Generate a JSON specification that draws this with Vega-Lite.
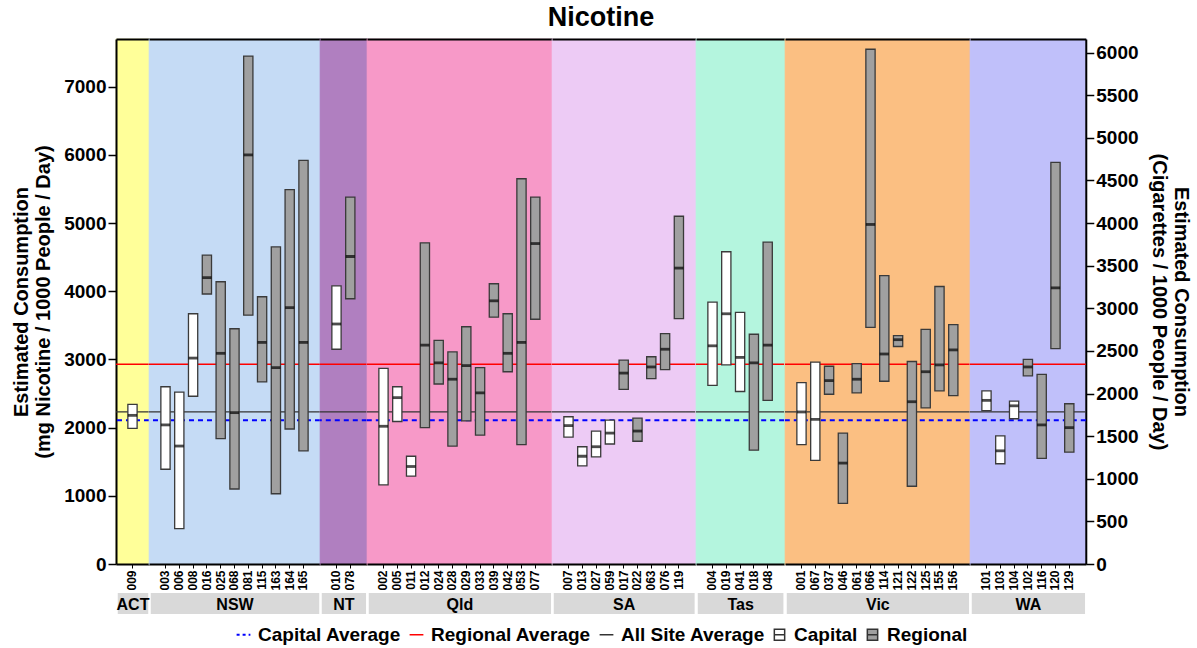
{
  "$schema": "https://vega.github.io/schema/vega-lite/v6.json",
  "title": {"text": "Nicotine", "fontSize": 27, "fontWeight": "bold", "color": "black", "anchor": "middle", "offset": 6},
  "spacing": 0,
  "bounds": "flush",
  "padding": {"left": 11, "right": 2, "top": 3, "bottom": 5},
  "config": {
    "font": "Liberation Sans",
    "view": {"stroke": null},
    "legend": {"layout": {"bottom": {"anchor": "middle"}}}
  },
  "datasets": {
    "avgs": [
      {"series": "Capital Average", "value": 2110},
      {"series": "Regional Average", "value": 2930},
      {"series": "All Site Average", "value": 2230}
    ],
    "sites": [
      {"region": "ACT", "site": "009", "type": "Capital", "lo": 1990, "mid": 2180, "hi": 2340},
      {"region": "NSW", "site": "003", "type": "Capital", "lo": 1390, "mid": 2040, "hi": 2600},
      {"region": "NSW", "site": "006", "type": "Capital", "lo": 520, "mid": 1730, "hi": 2520},
      {"region": "NSW", "site": "008", "type": "Capital", "lo": 2460, "mid": 3020, "hi": 3670},
      {"region": "NSW", "site": "016", "type": "Regional", "lo": 3960, "mid": 4200, "hi": 4530},
      {"region": "NSW", "site": "025", "type": "Regional", "lo": 1840, "mid": 3090, "hi": 4140},
      {"region": "NSW", "site": "068", "type": "Regional", "lo": 1100, "mid": 2220, "hi": 3450},
      {"region": "NSW", "site": "081", "type": "Regional", "lo": 3650, "mid": 6000, "hi": 7450},
      {"region": "NSW", "site": "115", "type": "Regional", "lo": 2670, "mid": 3250, "hi": 3920},
      {"region": "NSW", "site": "163", "type": "Regional", "lo": 1030, "mid": 2880, "hi": 4650},
      {"region": "NSW", "site": "164", "type": "Regional", "lo": 1980, "mid": 3760, "hi": 5490},
      {"region": "NSW", "site": "165", "type": "Regional", "lo": 1660, "mid": 3250, "hi": 5920},
      {"region": "NT", "site": "010", "type": "Capital", "lo": 3150, "mid": 3520, "hi": 4080},
      {"region": "NT", "site": "078", "type": "Regional", "lo": 3890, "mid": 4510, "hi": 5380},
      {"region": "Qld", "site": "002", "type": "Capital", "lo": 1160, "mid": 2020, "hi": 2870},
      {"region": "Qld", "site": "005", "type": "Capital", "lo": 2090, "mid": 2440, "hi": 2600},
      {"region": "Qld", "site": "011", "type": "Capital", "lo": 1290, "mid": 1430, "hi": 1580},
      {"region": "Qld", "site": "012", "type": "Regional", "lo": 2000, "mid": 3210, "hi": 4710},
      {"region": "Qld", "site": "024", "type": "Regional", "lo": 2640, "mid": 2950, "hi": 3280},
      {"region": "Qld", "site": "028", "type": "Regional", "lo": 1730, "mid": 2710, "hi": 3110},
      {"region": "Qld", "site": "029", "type": "Regional", "lo": 2100, "mid": 2910, "hi": 3480},
      {"region": "Qld", "site": "033", "type": "Regional", "lo": 1890, "mid": 2510, "hi": 2880},
      {"region": "Qld", "site": "039", "type": "Regional", "lo": 3620, "mid": 3860, "hi": 4110},
      {"region": "Qld", "site": "042", "type": "Regional", "lo": 2820, "mid": 3090, "hi": 3670},
      {"region": "Qld", "site": "053", "type": "Regional", "lo": 1750, "mid": 3250, "hi": 5650},
      {"region": "Qld", "site": "077", "type": "Regional", "lo": 3590, "mid": 4700, "hi": 5380},
      {"region": "SA", "site": "007", "type": "Capital", "lo": 1860, "mid": 2030, "hi": 2160},
      {"region": "SA", "site": "013", "type": "Capital", "lo": 1440, "mid": 1580, "hi": 1720},
      {"region": "SA", "site": "027", "type": "Capital", "lo": 1570, "mid": 1720, "hi": 1950},
      {"region": "SA", "site": "059", "type": "Capital", "lo": 1760, "mid": 1920, "hi": 2110},
      {"region": "SA", "site": "017", "type": "Regional", "lo": 2560, "mid": 2800, "hi": 2990},
      {"region": "SA", "site": "022", "type": "Regional", "lo": 1800, "mid": 1950, "hi": 2140},
      {"region": "SA", "site": "063", "type": "Regional", "lo": 2720, "mid": 2890, "hi": 3040},
      {"region": "SA", "site": "076", "type": "Regional", "lo": 2850, "mid": 3150, "hi": 3380},
      {"region": "SA", "site": "119", "type": "Regional", "lo": 3600, "mid": 4340, "hi": 5100},
      {"region": "Tas", "site": "004", "type": "Capital", "lo": 2620, "mid": 3200, "hi": 3840},
      {"region": "Tas", "site": "019", "type": "Capital", "lo": 2920, "mid": 3670, "hi": 4580},
      {"region": "Tas", "site": "041", "type": "Capital", "lo": 2530, "mid": 3030, "hi": 3690},
      {"region": "Tas", "site": "018", "type": "Regional", "lo": 1670, "mid": 2950, "hi": 3370},
      {"region": "Tas", "site": "048", "type": "Regional", "lo": 2400, "mid": 3210, "hi": 4720},
      {"region": "Vic", "site": "001", "type": "Capital", "lo": 1750, "mid": 2230, "hi": 2660},
      {"region": "Vic", "site": "067", "type": "Capital", "lo": 1520, "mid": 2120, "hi": 2960},
      {"region": "Vic", "site": "037", "type": "Regional", "lo": 2490, "mid": 2690, "hi": 2900},
      {"region": "Vic", "site": "046", "type": "Regional", "lo": 890, "mid": 1480, "hi": 1920},
      {"region": "Vic", "site": "061", "type": "Regional", "lo": 2510, "mid": 2710, "hi": 2940},
      {"region": "Vic", "site": "066", "type": "Regional", "lo": 3470, "mid": 4980, "hi": 7550},
      {"region": "Vic", "site": "114", "type": "Regional", "lo": 2680, "mid": 3080, "hi": 4230},
      {"region": "Vic", "site": "121", "type": "Regional", "lo": 3190, "mid": 3290, "hi": 3350},
      {"region": "Vic", "site": "122", "type": "Regional", "lo": 1140, "mid": 2380, "hi": 2970},
      {"region": "Vic", "site": "125", "type": "Regional", "lo": 2290, "mid": 2820, "hi": 3440},
      {"region": "Vic", "site": "155", "type": "Regional", "lo": 2540, "mid": 2920, "hi": 4070},
      {"region": "Vic", "site": "156", "type": "Regional", "lo": 2470, "mid": 3140, "hi": 3510},
      {"region": "WA", "site": "101", "type": "Capital", "lo": 2250, "mid": 2400, "hi": 2540},
      {"region": "WA", "site": "103", "type": "Capital", "lo": 1470, "mid": 1660, "hi": 1880},
      {"region": "WA", "site": "104", "type": "Capital", "lo": 2130, "mid": 2320, "hi": 2390},
      {"region": "WA", "site": "102", "type": "Regional", "lo": 2760, "mid": 2890, "hi": 3000},
      {"region": "WA", "site": "116", "type": "Regional", "lo": 1550, "mid": 2040, "hi": 2780},
      {"region": "WA", "site": "120", "type": "Regional", "lo": 3160, "mid": 4050, "hi": 5890},
      {"region": "WA", "site": "129", "type": "Regional", "lo": 1640, "mid": 2000, "hi": 2350}
    ]
  },
  "hconcat": [
    {
      "width": {"step": 13.8}, "height": 525,
      "view": {"fill": "#ffff99", "stroke": "#ffff99", "strokeWidth": 1.2},
      "resolve": {"axis": {"x": "independent", "y": "independent"}},
      "layer": [
        {"data": {"name": "avgs"}, "mark": {"type": "rule"},
         "encoding": {
           "y": {"field": "value", "type": "quantitative", "scale": {"domain": [0, 7700], "nice": false}, "axis": null},
           "stroke": {"field": "series", "type": "nominal",
             "scale": {"domain": ["Capital Average", "Regional Average", "All Site Average", "Capital", "Regional"], "range": ["#0000ff", "#ff0000", "#333333", "#333333", "#333333"]},
             "legend": {"orient": "bottom", "direction": "horizontal", "title": null, "labelFontSize": 19, "labelFontWeight": "bold", "labelColor": "black", "labelLimit": 300, "symbolSize": 190, "symbolStrokeWidth": 1.5, "columnPadding": 5, "labelOffset": 5, "offset": 12,
               "encode": {"symbols": {"update": {
                 "shape": {"signal": "datum.value === 'Capital' || datum.value === 'Regional' ? 'M-0.75,-0.8H0.75V0.8H-0.75Z M-0.75,0H0.75' : 'M-1,0H1'"},
                 "fill": {"signal": "datum.value === 'Capital' ? '#ffffff' : (datum.value === 'Regional' ? '#a0a0a0' : 'transparent')"},
                 "strokeDash": {"signal": "datum.value === 'Capital Average' ? [3,3] : [1,0]"},
                 "strokeWidth": {"signal": "datum.value === 'Capital Average' ? 2 : 1.5"}
               }}}}},
           "strokeDash": {"condition": {"test": "datum.series === 'Capital Average'", "value": [5, 4]}, "value": [1, 0]},
           "strokeWidth": {"condition": {"test": "datum.series === 'Capital Average'", "value": 2}, "value": 1.3}
         }},
        {"data": {"name": "sites"}, "transform": [{"filter": "datum.region === 'ACT'"}],
         "mark": {"type": "bar", "stroke": "#3a3a3a", "strokeWidth": 1.3},
         "encoding": {
           "x": {"field": "site", "type": "nominal", "sort": null, "scale": {"paddingInner": 0.33, "paddingOuter": 0.86},
             "axis": {"title": null, "labelAngle": -90, "labelFontSize": 12, "labelFontWeight": "bold", "labelColor": "black", "labelPadding": 2, "tickColor": "black", "tickSize": 4, "tickWidth": 1, "domainColor": "black", "domainWidth": 2}},
           "y": {"field": "lo", "type": "quantitative", "scale": {"domain": [0, 7700], "nice": false},
             "axis": {"orient": "left", "values": [0, 1000, 2000, 3000, 4000, 5000, 6000, 7000, 7700], "format": "d",
               "labelExpr": "datum.value == 7700 ? '' : datum.label",
               "labelFontSize": 19, "labelFontWeight": "bold", "labelColor": "black", "labelPadding": 2,
               "tickColor": {"condition": {"test": "datum.value == 7700", "value": "transparent"}, "value": "black"},
               "tickSize": 8, "tickWidth": 1.5, "domainColor": "black", "domainWidth": 2,
               "grid": true, "gridColor": {"condition": {"test": "datum.value == 7700", "value": "black"}, "value": "transparent"}, "gridWidth": 2,
               "title": ["Estimated Consumption", "(mg Nicotine / 1000 People / Day)"], "titleFontSize": 20, "titleLineHeight": 22, "titleFontWeight": "bold", "titleColor": "black", "titlePadding": 10}},
           "y2": {"field": "hi"},
           "fill": {"condition": {"test": "datum.type === 'Capital'", "value": "#ffffff"}, "value": "#a0a0a0"}
         }},
        {"data": {"name": "sites"}, "transform": [{"filter": "datum.region === 'ACT'"}],
         "mark": {"type": "tick", "color": "black", "size": 9.2, "thickness": 2.8},
         "encoding": {
           "x": {"field": "site", "type": "nominal", "sort": null,
             "axis": {"orient": "bottom", "offset": 39, "labels": false, "ticks": false, "domainColor": "#d9d9d9", "domainWidth": 21, "domainCap": "butt", "domainDash": [30.482, 2.5], "domainDashOffset": -1.25, "title": "ACT", "titleY": 1, "titleBaseline": "middle", "titleFontSize": 16, "titleFontWeight": "bold", "titleColor": "black"}},
           "y": {"field": "mid", "type": "quantitative", "axis": null}
         }}
      ]
    },
    {
      "width": {"step": 13.8}, "height": 525,
      "view": {"fill": "#c5dbf5", "stroke": "#c5dbf5", "strokeWidth": 1.2},
      "resolve": {"axis": {"x": "independent", "y": "independent"}},
      "layer": [
        {"data": {"name": "avgs"}, "mark": {"type": "rule"},
         "encoding": {
           "y": {"field": "value", "type": "quantitative", "scale": {"domain": [0, 7700], "nice": false}, "axis": null},
           "stroke": {"field": "series", "type": "nominal", "legend": null},
           "strokeDash": {"condition": {"test": "datum.series === 'Capital Average'", "value": [5, 4]}, "value": [1, 0]},
           "strokeWidth": {"condition": {"test": "datum.series === 'Capital Average'", "value": 2}, "value": 1.3}
         }},
        {"data": {"name": "sites"}, "transform": [{"filter": "datum.region === 'NSW'"}],
         "mark": {"type": "bar", "stroke": "#3a3a3a", "strokeWidth": 1.3},
         "encoding": {
           "x": {"field": "site", "type": "nominal", "sort": null, "scale": {"paddingInner": 0.33, "paddingOuter": 0.86},
             "axis": {"title": null, "labelAngle": -90, "labelFontSize": 12, "labelFontWeight": "bold", "labelColor": "black", "labelPadding": 2, "tickColor": "black", "tickSize": 4, "tickWidth": 1, "domainColor": "black", "domainWidth": 2}},
           "y": {"field": "lo", "type": "quantitative", "scale": {"domain": [0, 7700], "nice": false},
             "axis": {"values": [7700], "grid": true, "gridColor": "black", "gridWidth": 2, "labels": false, "ticks": false, "domain": false, "title": null}},
           "y2": {"field": "hi"},
           "fill": {"condition": {"test": "datum.type === 'Capital'", "value": "#ffffff"}, "value": "#a0a0a0"}
         }},
        {"data": {"name": "sites"}, "transform": [{"filter": "datum.region === 'NSW'"}],
         "mark": {"type": "tick", "color": "black", "size": 9.2, "thickness": 2.8},
         "encoding": {
           "x": {"field": "site", "type": "nominal", "sort": null,
             "axis": {"orient": "bottom", "offset": 39, "labels": false, "ticks": false, "domainColor": "#d9d9d9", "domainWidth": 21, "domainCap": "butt", "domainDash": [168.482, 2.5], "domainDashOffset": -1.25, "title": "NSW", "titleY": 1, "titleBaseline": "middle", "titleFontSize": 16, "titleFontWeight": "bold", "titleColor": "black"}},
           "y": {"field": "mid", "type": "quantitative", "axis": null}
         }}
      ]
    },
    {
      "width": {"step": 13.8}, "height": 525,
      "view": {"fill": "#b07fc0", "stroke": "#b07fc0", "strokeWidth": 1.2},
      "resolve": {"axis": {"x": "independent", "y": "independent"}},
      "layer": [
        {"data": {"name": "avgs"}, "mark": {"type": "rule"},
         "encoding": {
           "y": {"field": "value", "type": "quantitative", "scale": {"domain": [0, 7700], "nice": false}, "axis": null},
           "stroke": {"field": "series", "type": "nominal", "legend": null},
           "strokeDash": {"condition": {"test": "datum.series === 'Capital Average'", "value": [5, 4]}, "value": [1, 0]},
           "strokeWidth": {"condition": {"test": "datum.series === 'Capital Average'", "value": 2}, "value": 1.3}
         }},
        {"data": {"name": "sites"}, "transform": [{"filter": "datum.region === 'NT'"}],
         "mark": {"type": "bar", "stroke": "#3a3a3a", "strokeWidth": 1.3},
         "encoding": {
           "x": {"field": "site", "type": "nominal", "sort": null, "scale": {"paddingInner": 0.33, "paddingOuter": 0.86},
             "axis": {"title": null, "labelAngle": -90, "labelFontSize": 12, "labelFontWeight": "bold", "labelColor": "black", "labelPadding": 2, "tickColor": "black", "tickSize": 4, "tickWidth": 1, "domainColor": "black", "domainWidth": 2}},
           "y": {"field": "lo", "type": "quantitative", "scale": {"domain": [0, 7700], "nice": false},
             "axis": {"values": [7700], "grid": true, "gridColor": "black", "gridWidth": 2, "labels": false, "ticks": false, "domain": false, "title": null}},
           "y2": {"field": "hi"},
           "fill": {"condition": {"test": "datum.type === 'Capital'", "value": "#ffffff"}, "value": "#a0a0a0"}
         }},
        {"data": {"name": "sites"}, "transform": [{"filter": "datum.region === 'NT'"}],
         "mark": {"type": "tick", "color": "black", "size": 9.2, "thickness": 2.8},
         "encoding": {
           "x": {"field": "site", "type": "nominal", "sort": null,
             "axis": {"orient": "bottom", "offset": 39, "labels": false, "ticks": false, "domainColor": "#d9d9d9", "domainWidth": 21, "domainCap": "butt", "domainDash": [44.282, 2.5], "domainDashOffset": -1.25, "title": "NT", "titleY": 1, "titleBaseline": "middle", "titleFontSize": 16, "titleFontWeight": "bold", "titleColor": "black"}},
           "y": {"field": "mid", "type": "quantitative", "axis": null}
         }}
      ]
    },
    {
      "width": {"step": 13.8}, "height": 525,
      "view": {"fill": "#f799c8", "stroke": "#f799c8", "strokeWidth": 1.2},
      "resolve": {"axis": {"x": "independent", "y": "independent"}},
      "layer": [
        {"data": {"name": "avgs"}, "mark": {"type": "rule"},
         "encoding": {
           "y": {"field": "value", "type": "quantitative", "scale": {"domain": [0, 7700], "nice": false}, "axis": null},
           "stroke": {"field": "series", "type": "nominal", "legend": null},
           "strokeDash": {"condition": {"test": "datum.series === 'Capital Average'", "value": [5, 4]}, "value": [1, 0]},
           "strokeWidth": {"condition": {"test": "datum.series === 'Capital Average'", "value": 2}, "value": 1.3}
         }},
        {"data": {"name": "sites"}, "transform": [{"filter": "datum.region === 'Qld'"}],
         "mark": {"type": "bar", "stroke": "#3a3a3a", "strokeWidth": 1.3},
         "encoding": {
           "x": {"field": "site", "type": "nominal", "sort": null, "scale": {"paddingInner": 0.33, "paddingOuter": 0.86},
             "axis": {"title": null, "labelAngle": -90, "labelFontSize": 12, "labelFontWeight": "bold", "labelColor": "black", "labelPadding": 2, "tickColor": "black", "tickSize": 4, "tickWidth": 1, "domainColor": "black", "domainWidth": 2}},
           "y": {"field": "lo", "type": "quantitative", "scale": {"domain": [0, 7700], "nice": false},
             "axis": {"values": [7700], "grid": true, "gridColor": "black", "gridWidth": 2, "labels": false, "ticks": false, "domain": false, "title": null}},
           "y2": {"field": "hi"},
           "fill": {"condition": {"test": "datum.type === 'Capital'", "value": "#ffffff"}, "value": "#a0a0a0"}
         }},
        {"data": {"name": "sites"}, "transform": [{"filter": "datum.region === 'Qld'"}],
         "mark": {"type": "tick", "color": "black", "size": 9.2, "thickness": 2.8},
         "encoding": {
           "x": {"field": "site", "type": "nominal", "sort": null,
             "axis": {"orient": "bottom", "offset": 39, "labels": false, "ticks": false, "domainColor": "#d9d9d9", "domainWidth": 21, "domainCap": "butt", "domainDash": [182.282, 2.5], "domainDashOffset": -1.25, "title": "Qld", "titleY": 1, "titleBaseline": "middle", "titleFontSize": 16, "titleFontWeight": "bold", "titleColor": "black"}},
           "y": {"field": "mid", "type": "quantitative", "axis": null}
         }}
      ]
    },
    {
      "width": {"step": 13.8}, "height": 525,
      "view": {"fill": "#edcbf5", "stroke": "#edcbf5", "strokeWidth": 1.2},
      "resolve": {"axis": {"x": "independent", "y": "independent"}},
      "layer": [
        {"data": {"name": "avgs"}, "mark": {"type": "rule"},
         "encoding": {
           "y": {"field": "value", "type": "quantitative", "scale": {"domain": [0, 7700], "nice": false}, "axis": null},
           "stroke": {"field": "series", "type": "nominal", "legend": null},
           "strokeDash": {"condition": {"test": "datum.series === 'Capital Average'", "value": [5, 4]}, "value": [1, 0]},
           "strokeWidth": {"condition": {"test": "datum.series === 'Capital Average'", "value": 2}, "value": 1.3}
         }},
        {"data": {"name": "sites"}, "transform": [{"filter": "datum.region === 'SA'"}],
         "mark": {"type": "bar", "stroke": "#3a3a3a", "strokeWidth": 1.3},
         "encoding": {
           "x": {"field": "site", "type": "nominal", "sort": null, "scale": {"paddingInner": 0.33, "paddingOuter": 0.86},
             "axis": {"title": null, "labelAngle": -90, "labelFontSize": 12, "labelFontWeight": "bold", "labelColor": "black", "labelPadding": 2, "tickColor": "black", "tickSize": 4, "tickWidth": 1, "domainColor": "black", "domainWidth": 2}},
           "y": {"field": "lo", "type": "quantitative", "scale": {"domain": [0, 7700], "nice": false},
             "axis": {"values": [7700], "grid": true, "gridColor": "black", "gridWidth": 2, "labels": false, "ticks": false, "domain": false, "title": null}},
           "y2": {"field": "hi"},
           "fill": {"condition": {"test": "datum.type === 'Capital'", "value": "#ffffff"}, "value": "#a0a0a0"}
         }},
        {"data": {"name": "sites"}, "transform": [{"filter": "datum.region === 'SA'"}],
         "mark": {"type": "tick", "color": "black", "size": 9.2, "thickness": 2.8},
         "encoding": {
           "x": {"field": "site", "type": "nominal", "sort": null,
             "axis": {"orient": "bottom", "offset": 39, "labels": false, "ticks": false, "domainColor": "#d9d9d9", "domainWidth": 21, "domainCap": "butt", "domainDash": [140.882, 2.5], "domainDashOffset": -1.25, "title": "SA", "titleY": 1, "titleBaseline": "middle", "titleFontSize": 16, "titleFontWeight": "bold", "titleColor": "black"}},
           "y": {"field": "mid", "type": "quantitative", "axis": null}
         }}
      ]
    },
    {
      "width": {"step": 13.8}, "height": 525,
      "view": {"fill": "#b4f5de", "stroke": "#b4f5de", "strokeWidth": 1.2},
      "resolve": {"axis": {"x": "independent", "y": "independent"}},
      "layer": [
        {"data": {"name": "avgs"}, "mark": {"type": "rule"},
         "encoding": {
           "y": {"field": "value", "type": "quantitative", "scale": {"domain": [0, 7700], "nice": false}, "axis": null},
           "stroke": {"field": "series", "type": "nominal", "legend": null},
           "strokeDash": {"condition": {"test": "datum.series === 'Capital Average'", "value": [5, 4]}, "value": [1, 0]},
           "strokeWidth": {"condition": {"test": "datum.series === 'Capital Average'", "value": 2}, "value": 1.3}
         }},
        {"data": {"name": "sites"}, "transform": [{"filter": "datum.region === 'Tas'"}],
         "mark": {"type": "bar", "stroke": "#3a3a3a", "strokeWidth": 1.3},
         "encoding": {
           "x": {"field": "site", "type": "nominal", "sort": null, "scale": {"paddingInner": 0.33, "paddingOuter": 0.86},
             "axis": {"title": null, "labelAngle": -90, "labelFontSize": 12, "labelFontWeight": "bold", "labelColor": "black", "labelPadding": 2, "tickColor": "black", "tickSize": 4, "tickWidth": 1, "domainColor": "black", "domainWidth": 2}},
           "y": {"field": "lo", "type": "quantitative", "scale": {"domain": [0, 7700], "nice": false},
             "axis": {"values": [7700], "grid": true, "gridColor": "black", "gridWidth": 2, "labels": false, "ticks": false, "domain": false, "title": null}},
           "y2": {"field": "hi"},
           "fill": {"condition": {"test": "datum.type === 'Capital'", "value": "#ffffff"}, "value": "#a0a0a0"}
         }},
        {"data": {"name": "sites"}, "transform": [{"filter": "datum.region === 'Tas'"}],
         "mark": {"type": "tick", "color": "black", "size": 9.2, "thickness": 2.8},
         "encoding": {
           "x": {"field": "site", "type": "nominal", "sort": null,
             "axis": {"orient": "bottom", "offset": 39, "labels": false, "ticks": false, "domainColor": "#d9d9d9", "domainWidth": 21, "domainCap": "butt", "domainDash": [85.682, 2.5], "domainDashOffset": -1.25, "title": "Tas", "titleY": 1, "titleBaseline": "middle", "titleFontSize": 16, "titleFontWeight": "bold", "titleColor": "black"}},
           "y": {"field": "mid", "type": "quantitative", "axis": null}
         }}
      ]
    },
    {
      "width": {"step": 13.8}, "height": 525,
      "view": {"fill": "#fbbf82", "stroke": "#fbbf82", "strokeWidth": 1.2},
      "resolve": {"axis": {"x": "independent", "y": "independent"}},
      "layer": [
        {"data": {"name": "avgs"}, "mark": {"type": "rule"},
         "encoding": {
           "y": {"field": "value", "type": "quantitative", "scale": {"domain": [0, 7700], "nice": false}, "axis": null},
           "stroke": {"field": "series", "type": "nominal", "legend": null},
           "strokeDash": {"condition": {"test": "datum.series === 'Capital Average'", "value": [5, 4]}, "value": [1, 0]},
           "strokeWidth": {"condition": {"test": "datum.series === 'Capital Average'", "value": 2}, "value": 1.3}
         }},
        {"data": {"name": "sites"}, "transform": [{"filter": "datum.region === 'Vic'"}],
         "mark": {"type": "bar", "stroke": "#3a3a3a", "strokeWidth": 1.3},
         "encoding": {
           "x": {"field": "site", "type": "nominal", "sort": null, "scale": {"paddingInner": 0.33, "paddingOuter": 0.86},
             "axis": {"title": null, "labelAngle": -90, "labelFontSize": 12, "labelFontWeight": "bold", "labelColor": "black", "labelPadding": 2, "tickColor": "black", "tickSize": 4, "tickWidth": 1, "domainColor": "black", "domainWidth": 2}},
           "y": {"field": "lo", "type": "quantitative", "scale": {"domain": [0, 7700], "nice": false},
             "axis": {"values": [7700], "grid": true, "gridColor": "black", "gridWidth": 2, "labels": false, "ticks": false, "domain": false, "title": null}},
           "y2": {"field": "hi"},
           "fill": {"condition": {"test": "datum.type === 'Capital'", "value": "#ffffff"}, "value": "#a0a0a0"}
         }},
        {"data": {"name": "sites"}, "transform": [{"filter": "datum.region === 'Vic'"}],
         "mark": {"type": "tick", "color": "black", "size": 9.2, "thickness": 2.8},
         "encoding": {
           "x": {"field": "site", "type": "nominal", "sort": null,
             "axis": {"orient": "bottom", "offset": 39, "labels": false, "ticks": false, "domainColor": "#d9d9d9", "domainWidth": 21, "domainCap": "butt", "domainDash": [182.282, 2.5], "domainDashOffset": -1.25, "title": "Vic", "titleY": 1, "titleBaseline": "middle", "titleFontSize": 16, "titleFontWeight": "bold", "titleColor": "black"}},
           "y": {"field": "mid", "type": "quantitative", "axis": null}
         }}
      ]
    },
    {
      "width": {"step": 13.8}, "height": 525,
      "view": {"fill": "#c0c0fa", "stroke": "#c0c0fa", "strokeWidth": 1.2},
      "resolve": {"axis": {"x": "independent", "y": "independent"}},
      "layer": [
        {"data": {"name": "avgs"}, "mark": {"type": "rule"},
         "encoding": {
           "y": {"field": "value", "type": "quantitative", "scale": {"domain": [0, 7700], "nice": false}, "axis": null},
           "stroke": {"field": "series", "type": "nominal", "legend": null},
           "strokeDash": {"condition": {"test": "datum.series === 'Capital Average'", "value": [5, 4]}, "value": [1, 0]},
           "strokeWidth": {"condition": {"test": "datum.series === 'Capital Average'", "value": 2}, "value": 1.3}
         }},
        {"data": {"name": "sites"}, "transform": [{"filter": "datum.region === 'WA'"}],
         "mark": {"type": "bar", "stroke": "#3a3a3a", "strokeWidth": 1.3},
         "encoding": {
           "x": {"field": "site", "type": "nominal", "sort": null, "scale": {"paddingInner": 0.33, "paddingOuter": 0.86},
             "axis": {"title": null, "labelAngle": -90, "labelFontSize": 12, "labelFontWeight": "bold", "labelColor": "black", "labelPadding": 2, "tickColor": "black", "tickSize": 4, "tickWidth": 1, "domainColor": "black", "domainWidth": 2}},
           "y": {"field": "lo", "type": "quantitative", "scale": {"domain": [0, 7700], "nice": false},
             "axis": {"orient": "right", "values": [0, 625, 1250, 1875, 2500, 3125, 3750, 4375, 5000, 5625, 6250, 6875, 7500, 7700],
               "labelExpr": "datum.value == 7700 ? '' : format(datum.value / 1.25, 'd')",
               "labelFontSize": 19, "labelFontWeight": "bold", "labelColor": "black", "labelPadding": 2,
               "tickColor": {"condition": {"test": "datum.value == 7700", "value": "transparent"}, "value": "black"},
               "tickSize": 8, "tickWidth": 1.5, "domainColor": "black", "domainWidth": 2,
               "grid": true, "gridColor": {"condition": {"test": "datum.value == 7700", "value": "black"}, "value": "transparent"}, "gridWidth": 2,
               "title": ["Estimated Consumption", "(Cigarettes / 1000 People / Day)"], "titleFontSize": 20, "titleLineHeight": 22, "titleFontWeight": "bold", "titleColor": "black", "titlePadding": 10}},
           "y2": {"field": "hi"},
           "fill": {"condition": {"test": "datum.type === 'Capital'", "value": "#ffffff"}, "value": "#a0a0a0"}
         }},
        {"data": {"name": "sites"}, "transform": [{"filter": "datum.region === 'WA'"}],
         "mark": {"type": "tick", "color": "black", "size": 9.2, "thickness": 2.8},
         "encoding": {
           "x": {"field": "site", "type": "nominal", "sort": null,
             "axis": {"orient": "bottom", "offset": 39, "labels": false, "ticks": false, "domainColor": "#d9d9d9", "domainWidth": 21, "domainCap": "butt", "domainDash": [113.282, 2.5], "domainDashOffset": -1.25, "title": "WA", "titleY": 1, "titleBaseline": "middle", "titleFontSize": 16, "titleFontWeight": "bold", "titleColor": "black"}},
           "y": {"field": "mid", "type": "quantitative", "axis": null}
         }}
      ]
    }
  ]
}
